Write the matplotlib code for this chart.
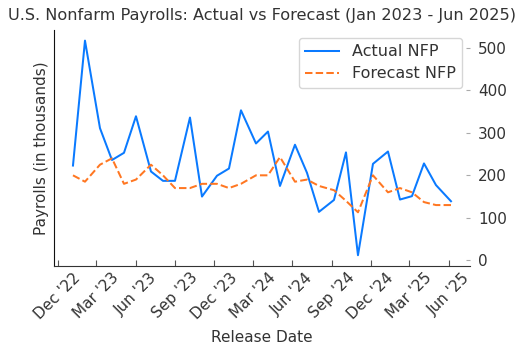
import matplotlib
matplotlib.use("Agg")
import matplotlib.pyplot as plt
import matplotlib.dates as mdates
import numpy as np
import pandas as pd

release_dates = [
    "2023-01-06", "2023-02-03", "2023-03-10", "2023-04-07", "2023-05-05", "2023-06-02",
    "2023-07-07", "2023-08-04", "2023-09-01", "2023-10-06", "2023-11-03", "2023-12-08",
    "2024-01-05", "2024-02-02", "2024-03-08", "2024-04-05", "2024-05-03", "2024-06-07",
    "2024-07-05", "2024-08-02", "2024-09-06", "2024-10-04", "2024-11-01", "2024-12-06",
    "2025-01-10", "2025-02-07", "2025-03-07", "2025-04-04", "2025-05-02", "2025-06-06",
]
actual_nfp = [
    223, 517, 311, 236, 253, 339, 209, 187, 187, 336, 150, 199,
    216, 353, 275, 303, 175, 272, 206, 114, 142, 254, 12, 227,
    256, 143, 151, 228, 177, 139,
]
forecast_nfp = [
    200, 185, 225, 240, 180, 190, 225, 200, 170, 170, 180, 180,
    170, 180, 200, 200, 243, 185, 190, 175, 165, 140, 113, 200,
    160, 170, 160, 137, 130, 130,
]

dates = pd.to_datetime(release_dates)
text_color = "#333333"

fig = plt.figure(figsize=(5.25, 3.56), dpi=100)
ax = fig.add_axes([0.103, 0.253, 0.792, 0.663])

ax.plot(dates, actual_nfp, color="#0a7aff", lw=1.45, label="Actual NFP")
ax.plot(dates, forecast_nfp, color="#ff7722", lw=1.45, ls="--", label="Forecast NFP")

ax.set_title("U.S. Nonfarm Payrolls: Actual vs Forecast (Jan 2023 - Jun 2025)",
             fontsize=11.6, color=text_color, pad=7)
ax.set_xlabel("Release Date", fontsize=11, color=text_color, labelpad=6)
ax.set_ylabel("Payrolls (in thousands)", fontsize=11, color=text_color)

ax.xaxis.set_major_locator(mdates.MonthLocator(bymonth=[3, 6, 9, 12]))
ax.xaxis.set_major_formatter(mdates.DateFormatter("%b '%y"))
plt.setp(ax.get_xticklabels(), rotation=45, ha="center")

ax.yaxis.tick_right()
ax.set_yticks([0, 100, 200, 300, 400, 500])
ax.tick_params(axis="y", direction="in", length=3, color="#aaaaaa",
               labelsize=11, labelcolor=text_color, pad=6)
ax.tick_params(axis="x", direction="in", length=4, color="#555555",
               labelsize=11, labelcolor=text_color, pad=3)

for side in ["top", "right"]:
    ax.spines[side].set_visible(False)
ax.spines["bottom"].set_color("#333333")
ax.spines["left"].set_color("#111111")

leg = ax.legend(loc="upper right", fontsize=11.5, labelcolor=text_color,
                handlelength=2.1, borderpad=0.4, labelspacing=0.45)
leg.get_frame().set_edgecolor("#cccccc")

fig.savefig("out.png", dpi=100)
